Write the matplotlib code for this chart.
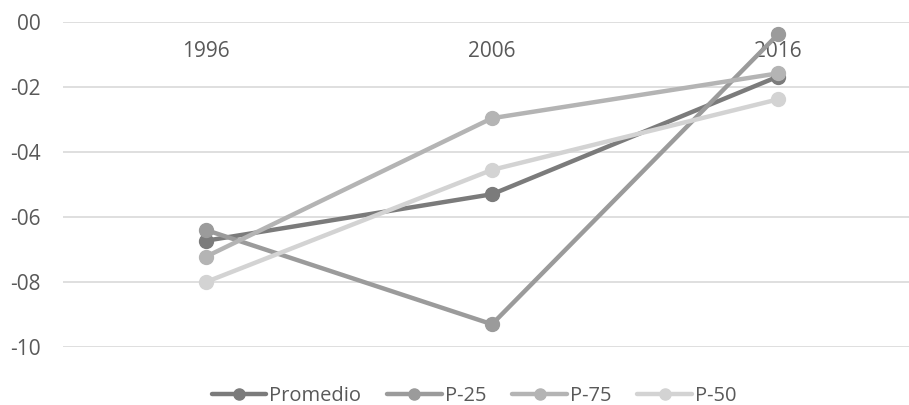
import matplotlib.pyplot as plt

years = ['1996', '2006', '2016']
promedio = [-6.73, -5.30, -1.68]
p25 = [-6.40, -9.30, -0.38]
p75 = [-7.22, -2.96, -1.58]
p50 = [-8.00, -4.55, -2.38]

series = [('Promedio', promedio, '#7b7b7b'),
          ('P-25', p25, '#9b9b9b'),
          ('P-75', p75, '#b4b4b4'),
          ('P-50', p50, '#d3d3d3')]

plt.rcParams['font.family'] = ['Open Sans', 'DejaVu Sans']
text_color = '#595959'

fig = plt.figure(figsize=(9.09, 4.05), dpi=100)
ax = fig.add_axes([63 / 909, 1 - 347 / 405, 858 / 909, 325 / 405])

x = list(range(len(years)))
for name, vals, col in series:
    ax.plot(x, vals, color=col, lw=3.2, marker='o', ms=10,
            solid_capstyle='round', label=name)

yt = [0, -2, -4, -6, -8, -10]
ax.set_xlim(-0.5, 2.5)
ax.set_ylim(-10, 0)
ax.set_yticks(yt)
ax.set_yticklabels(['00' if v == 0 else '-%02d' % abs(v) for v in yt])
ax.set_xticks(x)
ax.set_xticklabels(years)
ax.spines['bottom'].set_position(('data', 0))
for s in ax.spines.values():
    s.set_visible(False)
ax.tick_params(axis='both', length=0, labelsize=15, colors=text_color)
ax.tick_params(axis='y', pad=16)
ax.tick_params(axis='x', pad=14)
ax.grid(axis='y', color='#d9d9d9', lw=1.2)
ax.set_axisbelow(True)

fig.legend(loc='center', bbox_to_anchor=(474 / 909, 1 - 396 / 405), ncol=4,
           frameon=False, fontsize=14.5, handlelength=2.7, handletextpad=0.15,
           columnspacing=1.3, markerscale=0.8, labelcolor=text_color)

fig.savefig('out.png', dpi=100)
